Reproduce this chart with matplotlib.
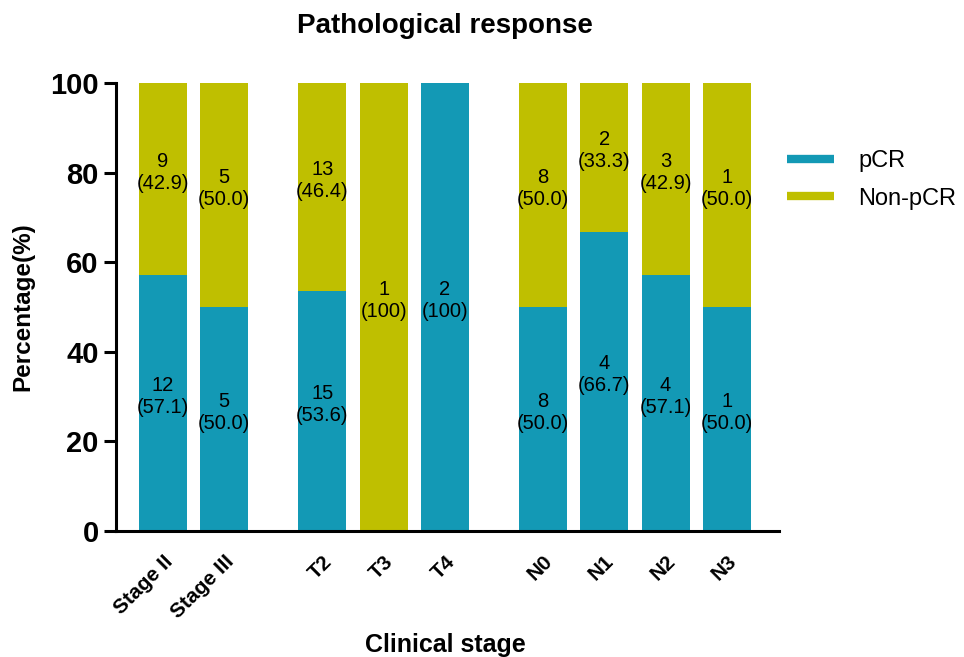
import numpy as np
import matplotlib.pyplot as plt
from matplotlib.lines import Line2D

plt.rcParams['font.family'] = ['Liberation Sans', 'DejaVu Sans']

# data
groups = ['Stage II', 'Stage III', 'T2', 'T3', 'T4', 'N0', 'N1', 'N2', 'N3']
pcr_n = [12, 5, 15, 0, 2, 8, 4, 4, 1]
non_n = [9, 5, 13, 1, 0, 8, 2, 3, 1]
pcr_pct = [57.1, 50.0, 53.6, 0, 100, 50.0, 66.7, 57.1, 50.0]
non_pct = [42.9, 50.0, 46.4, 100, 0, 50.0, 33.3, 42.9, 50.0]

# bar positions: three blocks with wider gaps
x = np.array([0, 1, 2.6, 3.6, 4.6, 6.2, 7.2, 8.2, 9.2])

teal = '#1399b5'
olive = '#bfbf00'

fig = plt.figure(figsize=(9.64, 6.57), dpi=100)
ax = fig.add_axes([116/964, 1-531/657, (779-116)/964, (531-83)/657])

w = 0.78
ax.bar(x, pcr_pct, width=w, color=teal)
ax.bar(x, non_pct, width=w, bottom=pcr_pct, color=olive)


def fmt(p):
    return '(100)' if p == 100 else '(%.1f)' % p


for xi, n1, p1, n2, p2 in zip(x, pcr_n, pcr_pct, non_n, non_pct):
    if p1 > 0:
        ax.text(xi, p1 / 2 + 1.5, '%d\n%s' % (n1, fmt(p1)), ha='center', va='center',
                fontsize=14.5, linespacing=1.2)
    if p2 > 0:
        ax.text(xi, p1 + p2 / 2 + 1.5, '%d\n%s' % (n2, fmt(p2)), ha='center', va='center',
                fontsize=14.5, linespacing=1.2)

ax.set_xlim(-0.767, 10.05)
ax.set_ylim(0, 100)
ax.set_yticks([0, 20, 40, 60, 80, 100])
ax.set_xticks(x)
ax.set_xticklabels(groups, rotation=45, ha='right', va='top', rotation_mode='anchor',
                   fontsize=15, fontweight='bold')
ax.tick_params(axis='x', length=0, pad=15)
ax.tick_params(axis='y', length=8.5, width=2.2, labelsize=21, pad=4)
for lab in ax.get_yticklabels():
    lab.set_fontweight('bold')

for s in ['top', 'right']:
    ax.spines[s].set_visible(False)
for s in ['left', 'bottom']:
    ax.spines[s].set_linewidth(2.2)

ax.set_ylabel('Percentage(%)', fontsize=17.5, fontweight='bold', labelpad=11)
fig.text(445/964, 1-645/657, 'Clinical stage', ha='center', va='center',
         fontsize=18, fontweight='bold')
fig.text(445/964, 1-26/657, 'Pathological response', ha='center', va='center',
         fontsize=20, fontweight='bold')

handles = [Line2D([0], [0], color=teal, lw=6, solid_capstyle='butt'),
           Line2D([0], [0], color=olive, lw=6, solid_capstyle='butt')]
fig.legend(handles, ['pCR', 'Non-pCR'], loc='upper left',
           bbox_to_anchor=(766/964, 1-129/657), frameon=False, fontsize=17,
           handlelength=2.0, handletextpad=1.0, labelspacing=0.65)

fig.savefig('out.png', dpi=100)
